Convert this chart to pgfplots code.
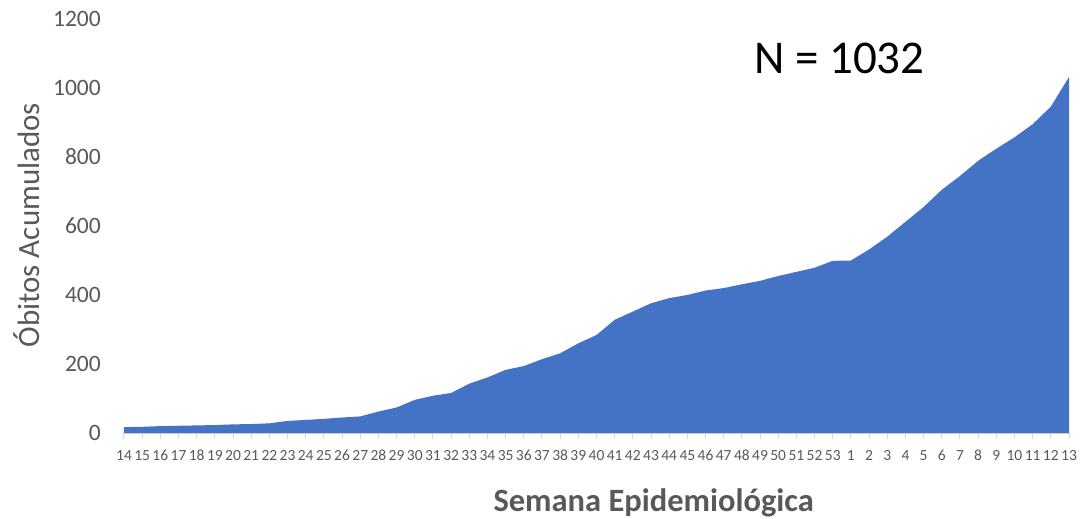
\documentclass[border=0pt]{standalone}
\usepackage{pgfplots}
\pgfplotsset{compat=1.18}
\usepackage{fontspec}
\setmainfont{Carlito}
\definecolor{areablue}{HTML}{4472C4}
\definecolor{txtgray}{HTML}{595959}
\definecolor{axgray}{HTML}{D9D9D9}
\begin{document}
\begin{tikzpicture}
\path[use as bounding box] (-124bp,-86bp) rectangle (961bp,433bp);
\begin{axis}[
  at={(0,0)}, anchor=south west,
  scale only axis, width=945bp, height=414bp,
  xmin=0, xmax=52, ymin=0, ymax=1200,
  axis y line*=left,
  axis x line*=bottom,
  y axis line style={draw=none},
  x axis line style={draw=axgray, line width=1pt},
  xtick=data,
  xticklabels={14,15,16,17,18,19,20,21,22,23,24,25,26,27,28,29,30,31,32,33,34,35,36,37,38,39,40,41,42,43,44,45,46,47,48,49,50,51,52,53,1,2,3,4,5,6,7,8,9,10,11,12,13},
  x tick style={draw=axgray, line width=1pt},
  y tick style={draw=none},
  major tick length=6bp,
  tick align=outside,
  ytick={0,200,400,600,800,1000,1200},
  /pgf/number format/assume math mode=true,
  x tick label style={font=\fontsize{15.5bp}{17bp}\selectfont, text=txtgray, inner sep=0pt, anchor=north, text height=10bp, text depth=0pt, yshift=-11bp},
  y tick label style={font=\fontsize{23.5bp}{26bp}\selectfont, text=txtgray, inner sep=0pt, anchor=east, xshift=-17bp},
  yticklabel style={/pgf/number format/1000 sep={}},
  xlabel={\textbf{Semana Epidemiológica}},
  ylabel={Óbitos Acumulados},
  xlabel style={at={(axis description cs:0.5605,-0.169)}, anchor=center, font=\fontsize{32.5bp}{36bp}\selectfont, text=txtgray},
  ylabel style={at={(axis description cs:-0.1026,0.502)}, anchor=center, rotate=0, font=\fontsize{31bp}{34bp}\selectfont, text=txtgray},
  clip=false,
]
\addplot[fill=areablue, draw=none] coordinates {
(0,17)(1,18)(2,20)(3,21)(4,22)(5,23)(6,25)(7,26)(8,28)(9,35)(10,38)(11,41)(12,45)(13,48)(14,62)(15,74)(16,96)(17,108)(18,116)(19,143)(20,161)(21,183)(22,194)(23,214)(24,231)(25,260)(26,284)(27,328)(28,352)(29,376)(30,391)(31,400)(32,413)(33,420)(34,431)(35,441)(36,455)(37,467)(38,479)(39,499)(40,500)(41,532)(42,569)(43,612)(44,655)(45,705)(46,745)(47,789)(48,824)(49,857)(50,895)(51,946)(52,1032)
} \closedcycle;
\node[anchor=center, font=\fontsize{47bp}{52bp}\selectfont, text=black] at (axis description cs:0.757,0.906) {N = 1032};
\end{axis}
\end{tikzpicture}
\end{document}
